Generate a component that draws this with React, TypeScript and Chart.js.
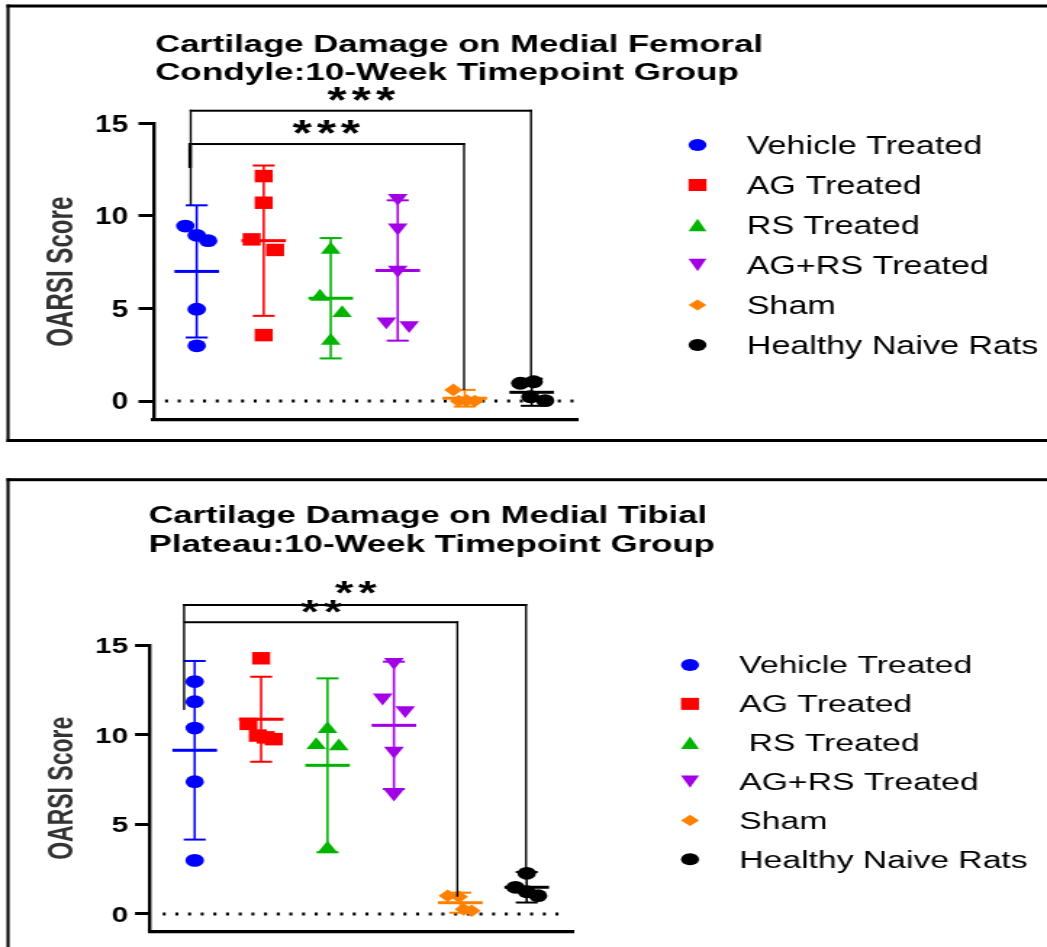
import React, { useEffect, useRef } from "react";
import { Chart, registerables } from "chart.js";

Chart.register(...registerables);

// ---------- DATA ----------
const groupLabels = ["Vehicle Treated", "AG Treated", "RS Treated", "AG+RS Treated", "Sham", "Healthy Naive Rats"];
const groupLabelsTibial = ["Vehicle Treated", "AG Treated", " RS Treated", "AG+RS Treated", "Sham", "Healthy Naive Rats"];
const yTickValues = [0, 5, 10, 15];

// Medial femoral condyle
const femVehicle = [9.45, 8.95, 8.66, 4.96, 2.98];
const femVehicleJitter = [-0.17, 0, 0.17, 0, 0];
const femAG = [12.15, 10.71, 8.73, 8.16, 3.56];
const femAGJitter = [0, 0, -0.18, 0.17, 0];
const femRS = [8.17, 5.63, 4.75, 3.25];
const femRSJitter = [0, -0.16, 0.17, 0];
const femAGRS = [10.97, 9.37, 7.09, 4.3, 4.1];
const femAGRSJitter = [0, 0, 0, -0.17, 0.17];
const femSham = [0.6, 0.0, 0.02, 0.0];
const femShamJitter = [-0.17, -0.09, 0.03, 0.15];
const femHealthy = [0.96, 1.04, 0.23, 0.02];
const femHealthyJitter = [-0.17, 0.03, -0.02, 0.2];
const femMeans = [7.0, 8.66, 5.55, 7.05, 0.15, 0.47];
const femSD = [3.57, 4.06, 3.25, 3.79, 0.45, 0.73];
const femBracketFrom = [-0.09, -0.1];
const femBracketTo = [4.99, 3.99];
const femBracketTop = [15.68, 13.88];
const femBracketLeftEnd = [10.59, 12.59];
const femBracketRightEnd = [1.2, 0.6];
const femStars = ["***", "***"];
const femStarX = [2.46, 1.94];
const femStarY = [16.59, 14.79];

// Medial tibial plateau
const tibVehicle = [12.96, 11.84, 10.37, 7.38, 2.99];
const tibVehicleJitter = [0, 0, 0, 0, 0];
const tibAG = [14.26, 10.6, 9.95, 9.85, 9.75];
const tibAGJitter = [0, -0.19, -0.05, 0.07, 0.19];
const tibRS = [10.31, 9.42, 9.35, 3.65];
const tibRSJitter = [0, -0.17, 0.17, 0];
const tibAGRS = [14.06, 12.07, 11.37, 9.1, 6.72];
const tibAGRSJitter = [0, -0.17, 0.17, 0, 0];
const tibSham = [1.02, 0.96, 0.26, 0.18];
const tibShamJitter = [-0.19, -0.02, 0.05, 0.17];
const tibHealthy = [2.27, 1.49, 1.24, 1.02];
const tibHealthyJitter = [0, -0.17, 0, 0.17];
const tibMeans = [9.13, 10.86, 8.29, 10.52, 0.63, 1.49];
const tibSD = [4.98, 2.37, 4.85, 3.55, 0.56, 0.85];
const tibBracketFrom = [-0.16, -0.15];
const tibBracketTo = [4.99, 3.955];
const tibBracketTop = [17.23, 16.27];
const tibBracketLeftEnd = [11.38, 16.27];
const tibBracketRightEnd = [2.45, 0.96];
const tibStars = ["**", "**"];
const tibStarX = [2.43, 1.91];
const tibStarY = [18.18, 17.14];

// ---------- STYLE ----------
const PAGE_W = 1047;
const CANVAS_W = 722;
const S = PAGE_W / CANVAS_W; // horizontal stretch of the canvas bitmap
const u = (v: number) => v / S;
const FONT = '"Liberation Sans", Arial, Helvetica, sans-serif';
const colors = ["#0000FF", "#FF0000", "#00B400", "#A100E6", "#FF8000", "#000000"];
const pointStyles = ["circle", "rect", "triangle", "triangle", "rectRot", "circle"];
const pointRotations = [0, 0, 0, 180, 0, 0];
const pointRadii = [6.4, 8.8, 7.9, 7.9, 6.3, 6.4];

type Layout = any;

const femLayout: Layout = {
  canvasTop: 0,
  canvasH: 460,
  frameTop: 6,
  frameBottom: 440.5,
  frameLeft: 8,
  titleLines: ["Cartilage Damage on Medial Femoral", "Condyle:10-Week Timepoint Group"],
  titleX: 155,
  titleBaselines: [51.7, 80],
  titleWidths: [608, 584],
  titleSize: 24.7,
  area: { left: 153.5, right: 578, top: 123.3, bottom: 420 },
  xMin: -0.645,
  xMax: 5.691,
  yMin: -1.026,
  yMax: 15,
  tickSize: 23,
  tickRight: 128,
  tickRefW: 33,
  yTitleX: 59.4,
  yTitleY: 271.7,
  yTitleLen: 150,
  yTitleSize: 25,
  legendMarkerX: 697.5,
  legendTextX: 746.7,
  legendY0: 145,
  legendDy: 40,
  legendSize: 25,
  legendRefW: 291.7,
  zeroFrom: -0.473,
  zeroTo: 5.63,
  starW: 68,
  starH: 15,
  leftLegW: [2, 3.5],
};

const tibLayout: Layout = {
  canvasTop: 460,
  canvasH: 487,
  frameTop: 19.7,
  frameBottom: null,
  frameLeft: 8,
  titleLines: ["Cartilage Damage on Medial Tibial", "Plateau:10-Week Timepoint Group"],
  titleX: 148.5,
  titleBaselines: [63.3, 91.7],
  titleWidths: [558.5, 566.5],
  titleSize: 23.3,
  area: { left: 150, right: 573, top: 185, bottom: 471.7 },
  xMin: -0.673,
  xMax: 5.697,
  yMin: -0.987,
  yMax: 15,
  tickSize: 22,
  tickRight: 128,
  tickRefW: 33,
  yTitleX: 59.4,
  yTitleY: 328.3,
  yTitleLen: 143,
  yTitleSize: 24,
  legendMarkerX: 690,
  legendTextX: 739.3,
  legendY0: 205,
  legendDy: 38.86,
  legendSize: 23.5,
  legendRefW: 288.3,
  zeroFrom: -0.482,
  zeroTo: 5.62,
  starW: 42,
  starH: 13,
  leftLegW: [2, 2],
};

function drawLegendMarker(ctx: CanvasRenderingContext2D, i: number, x: number, cy: number) {
  ctx.fillStyle = colors[i];
  ctx.beginPath();
  const hw = u(9);
  if (i === 0 || i === 5) {
    ctx.ellipse(x, cy, hw, 6, 0, 0, Math.PI * 2);
  } else if (i === 1) {
    ctx.rect(x - hw, cy - 6, 2 * hw, 12);
  } else if (i === 2) {
    ctx.moveTo(x, cy - 6.2);
    ctx.lineTo(x + hw, cy + 6.2);
    ctx.lineTo(x - hw, cy + 6.2);
  } else if (i === 3) {
    ctx.moveTo(x, cy + 6.2);
    ctx.lineTo(x + hw, cy - 6.2);
    ctx.lineTo(x - hw, cy - 6.2);
  } else {
    ctx.moveTo(x, cy - 5.6);
    ctx.lineTo(x + hw, cy);
    ctx.lineTo(x, cy + 5.6);
    ctx.lineTo(x - hw, cy);
  }
  ctx.closePath();
  ctx.fill();
}

function makeDecorPlugin(L: Layout, labels: string[], means: number[], sds: number[], br: any) {
  return {
    id: "panelDecor",
    afterDraw(chart: any) {
      const ctx: any = chart.ctx;
      const xs = chart.scales.x;
      const ys = chart.scales.y;
      ctx.save();
      // frame
      ctx.fillStyle = "#000";
      const fx = u(L.frameLeft - 1.5);
      ctx.fillRect(fx, L.frameTop - 1.5, CANVAS_W, 3);
      const fb = L.frameBottom == null ? L.canvasH + 10 : L.frameBottom;
      ctx.fillRect(fx, L.frameTop - 1.5, u(3), fb - L.frameTop + 3);
      if (L.frameBottom != null) ctx.fillRect(fx, L.frameBottom - 1.5, CANVAS_W, 3);

      // title
      ctx.textBaseline = "alphabetic";
      ctx.textAlign = "left";
      ctx.font = `bold ${L.titleSize}px ${FONT}`;
      L.titleLines.forEach((t: string, i: number) => {
        const w = ctx.measureText(t).width;
        ctx.save();
        ctx.translate(u(L.titleX), L.titleBaselines[i]);
        ctx.scale(u(L.titleWidths[i]) / w, 1);
        ctx.fillText(t, 0, 0);
        ctx.restore();
      });

      // y tick labels
      ctx.font = `bold ${L.tickSize}px ${FONT}`;
      ctx.textAlign = "right";
      const tk = u(L.tickRefW) / ctx.measureText("15").width;
      yTickValues.forEach((v) => {
        const py = ys.getPixelForValue(v);
        ctx.save();
        ctx.translate(u(L.tickRight), py + 0.358 * L.tickSize);
        ctx.scale(tk, 1);
        ctx.fillText(String(v), 0, 0);
        ctx.restore();
      });

      // y axis title
      ctx.font = `bold ${L.yTitleSize}px ${FONT}`;
      ctx.textAlign = "center";
      ctx.fillStyle = "#333333";
      const tw = ctx.measureText("OARSI Score").width;
      ctx.save();
      ctx.translate(u(L.yTitleX), L.yTitleY);
      ctx.rotate(-Math.PI / 2);
      ctx.scale(L.yTitleLen / tw, 1);
      ctx.fillText("OARSI Score", 0, 0.358 * L.yTitleSize);
      ctx.restore();

      // error bars + means
      means.forEach((m, i) => {
        const cx = xs.getPixelForValue(i);
        const yt = ys.getPixelForValue(m + sds[i]);
        const yb = ys.getPixelForValue(m - sds[i]);
        const ym = ys.getPixelForValue(m);
        ctx.fillStyle = colors[i];
        ctx.fillRect(cx - u(1.15), yt, u(2.3), yb - yt);
        ctx.fillRect(cx - u(11), yt - 1, u(22), 2);
        ctx.fillRect(cx - u(11), yb - 1, u(22), 2);
        ctx.fillRect(cx - u(22.3), ym - 1.5, u(44.6), 3);
      });

      // significance brackets
      ctx.fillStyle = "#000";
      br.from.forEach((f: number, b: number) => {
        const xl = xs.getPixelForValue(f);
        const xr = xs.getPixelForValue(br.to[b]);
        const yh = ys.getPixelForValue(br.top[b]);
        const yle = ys.getPixelForValue(br.leftEnd[b]);
        const yre = ys.getPixelForValue(br.rightEnd[b]);
        const lw = L.leftLegW[b];
        ctx.fillRect(xl - u(1), yh - 1, xr - xl + u(2), 2);
        if (yle > yh) ctx.fillRect(xl - u(lw / 2), yh - 1, u(lw), yle - yh + 1);
        ctx.fillRect(xr - u(1), yh - 1, u(2), yre - yh + 1);
      });

      // stars
      ctx.font = `bold 40px ${FONT}`;
      ctx.textAlign = "left";
      ctx.textBaseline = "alphabetic";
      if ("letterSpacing" in ctx) ctx.letterSpacing = "4px";
      br.stars.forEach((txt: string, b: number) => {
        const m = ctx.measureText(txt);
        const gw = m.actualBoundingBoxLeft + m.actualBoundingBoxRight;
        const gh = m.actualBoundingBoxAscent + m.actualBoundingBoxDescent;
        ctx.save();
        ctx.translate(xs.getPixelForValue(br.starX[b]), ys.getPixelForValue(br.starY[b]));
        ctx.scale(u(L.starW) / gw, L.starH / gh);
        ctx.fillText(
          txt,
          -(m.actualBoundingBoxRight - m.actualBoundingBoxLeft) / 2,
          (m.actualBoundingBoxAscent - m.actualBoundingBoxDescent) / 2
        );
        ctx.restore();
      });
      if ("letterSpacing" in ctx) ctx.letterSpacing = "0px";

      // legend
      ctx.font = `${L.legendSize}px ${FONT}`;
      ctx.textAlign = "left";
      const lk = u(L.legendRefW) / ctx.measureText("Healthy Naive Rats").width;
      labels.forEach((t, i) => {
        const cy = L.legendY0 + i * L.legendDy;
        drawLegendMarker(ctx, i, u(L.legendMarkerX), cy);
        ctx.fillStyle = "#000";
        ctx.save();
        ctx.translate(u(L.legendTextX), cy + 0.358 * L.legendSize);
        ctx.scale(lk, 1);
        ctx.fillText(t, 0, 0);
        ctx.restore();
      });
      ctx.restore();
    },
  };
}

function buildChart(canvas: HTMLCanvasElement, L: Layout, labels: string[], values: number[][], jitters: number[][], means: number[], sds: number[], br: any) {
  const datasets: any[] = values.map((vals, i) => ({
    label: labels[i],
    data: vals.map((v, k) => ({ x: i + jitters[i][k], y: v })),
    showLine: false,
    pointStyle: pointStyles[i],
    pointRotation: pointRotations[i],
    pointRadius: pointRadii[i],
    pointBackgroundColor: colors[i],
    pointBorderColor: colors[i],
    pointBorderWidth: 0,
    backgroundColor: colors[i],
    borderColor: colors[i],
    clip: false,
  }));
  datasets.push({
    label: "zero",
    data: [
      { x: L.zeroFrom, y: 0 },
      { x: L.zeroTo, y: 0 },
    ],
    showLine: true,
    borderColor: "#000",
    borderWidth: 3,
    borderDash: [u(3), u(9.67)],
    borderCapStyle: "butt",
    pointRadius: 0,
    clip: false,
  });
  const a = L.area;
  return new Chart(canvas, {
    type: "scatter",
    data: { datasets },
    options: {
      responsive: false,
      animation: false,
      devicePixelRatio: 1,
      events: [],
      layout: {
        padding: { left: 0, right: CANVAS_W - u(a.right), top: a.top, bottom: L.canvasH - a.bottom },
      },
      plugins: { legend: { display: false }, tooltip: { enabled: false }, title: { display: false } },
      scales: {
        x: {
          type: "linear",
          min: L.xMin,
          max: L.xMax,
          ticks: { display: false },
          grid: { display: false, drawTicks: false },
          border: { display: true, color: "#000", width: 3.3 },
          afterFit: (s: any) => {
            s.height = 0;
          },
        },
        y: {
          type: "linear",
          min: L.yMin,
          max: L.yMax,
          ticks: { display: false },
          afterBuildTicks: (s: any) => {
            s.ticks = yTickValues.map((v) => ({ value: v }));
          },
          grid: {
            display: true,
            drawOnChartArea: false,
            drawTicks: true,
            tickLength: u(15),
            tickWidth: 3,
            tickColor: "#000",
            color: "#000",
          },
          border: { display: true, color: "#000", width: 2.4 },
          afterFit: (s: any) => {
            s.width = u(a.left);
          },
        },
      },
    } as any,
    plugins: [makeDecorPlugin(L, labels, means, sds, br)],
  });
}

function Panel(props: { L: Layout; labels: string[]; values: number[][]; jitters: number[][]; means: number[]; sds: number[]; br: any }) {
  const ref = useRef<HTMLCanvasElement>(null);
  useEffect(() => {
    const chart = buildChart(ref.current!, props.L, props.labels, props.values, props.jitters, props.means, props.sds, props.br);
    return () => chart.destroy();
  }, []);
  return (
    <canvas
      ref={ref}
      width={CANVAS_W}
      height={props.L.canvasH}
      style={{ position: "absolute", left: 0, top: props.L.canvasTop, width: PAGE_W + "px", height: props.L.canvasH + "px" }}
    />
  );
}

export default function App() {
  return (
    <div style={{ position: "fixed", left: 0, top: 0, width: PAGE_W, height: 947, overflow: "hidden", background: "#fff" }}>
      <Panel
        L={femLayout}
        labels={groupLabels}
        values={[femVehicle, femAG, femRS, femAGRS, femSham, femHealthy]}
        jitters={[femVehicleJitter, femAGJitter, femRSJitter, femAGRSJitter, femShamJitter, femHealthyJitter]}
        means={femMeans}
        sds={femSD}
        br={{
          from: femBracketFrom,
          to: femBracketTo,
          top: femBracketTop,
          leftEnd: femBracketLeftEnd,
          rightEnd: femBracketRightEnd,
          stars: femStars,
          starX: femStarX,
          starY: femStarY,
        }}
      />
      <Panel
        L={tibLayout}
        labels={groupLabelsTibial}
        values={[tibVehicle, tibAG, tibRS, tibAGRS, tibSham, tibHealthy]}
        jitters={[tibVehicleJitter, tibAGJitter, tibRSJitter, tibAGRSJitter, tibShamJitter, tibHealthyJitter]}
        means={tibMeans}
        sds={tibSD}
        br={{
          from: tibBracketFrom,
          to: tibBracketTo,
          top: tibBracketTop,
          leftEnd: tibBracketLeftEnd,
          rightEnd: tibBracketRightEnd,
          stars: tibStars,
          starX: tibStarX,
          starY: tibStarY,
        }}
      />
    </div>
  );
}
